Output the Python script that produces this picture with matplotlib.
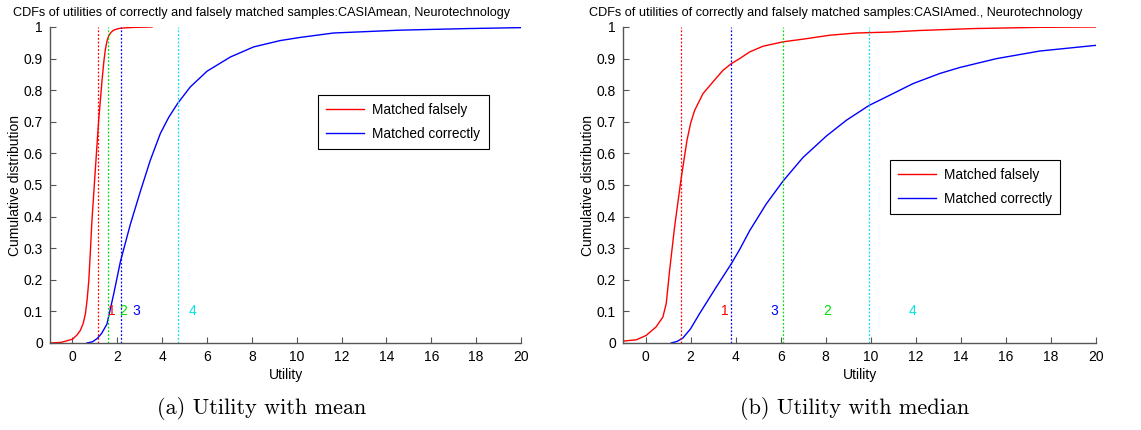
import matplotlib
matplotlib.use("Agg")
import matplotlib.pyplot as plt

plt.rcParams['font.family'] = ['Liberation Sans', 'DejaVu Sans']

# ---- Utility with mean ----
mean_false_x = [-1.0, -0.5, 0.0, 0.2, 0.354, 0.48, 0.58, 0.66, 0.73, 0.8, 0.87, 1.02, 1.17, 1.32, 1.40,
                1.47, 1.55, 1.62, 1.72, 1.84, 2.05, 2.28, 2.8, 3.55]
mean_false_y = [0.0, 0.002, 0.012, 0.025, 0.04, 0.062, 0.093, 0.14, 0.198, 0.29, 0.388, 0.547, 0.705, 0.831, 0.89,
                0.93, 0.958, 0.972, 0.983, 0.99, 0.995, 0.997, 0.999, 1.0]
mean_true_x = [0.65, 0.9, 1.1, 1.3, 1.54, 1.84, 2.14, 2.58, 3.03, 3.47, 3.92, 4.3, 4.69, 5.25, 6.0, 7.04,
               8.08, 9.26, 10.15, 11.64, 14.6, 17.6, 20.0]
mean_true_y = [0.0, 0.004, 0.014, 0.03, 0.06, 0.155, 0.258, 0.375, 0.48, 0.578, 0.663, 0.715, 0.758, 0.81, 0.86, 0.905,
               0.937, 0.957, 0.967, 0.981, 0.99, 0.995, 0.998]
mean_marks = [1.13, 1.57, 2.15, 4.7]
mean_mark_labels = ['1', '2', '3', '4']
mean_label_x = [1.75, 2.27, 2.83, 5.36]

# ---- Utility with median ----
med_false_x = [-1.0, -0.41, 0.03, 0.47, 0.77, 0.92, 1.07, 1.29, 1.57, 1.84, 2.0, 2.18, 2.55, 2.99, 3.44, 3.81,
               4.18, 4.62, 5.21, 6.1, 7.14, 8.18, 9.36, 10.84, 12.18, 14.55, 17.51, 20.0]
med_false_y = [0.006, 0.01, 0.024, 0.051, 0.082, 0.125, 0.23, 0.367, 0.515, 0.641, 0.695, 0.736, 0.789, 0.826, 0.863, 0.884,
               0.9, 0.921, 0.939, 0.953, 0.963, 0.974, 0.981, 0.984, 0.989, 0.995, 0.999, 1.0]
med_true_x = [1.14, 1.4, 1.66, 2.0, 2.4, 3.14, 3.81, 4.18, 4.62, 5.36, 6.1, 6.99, 8.03, 8.92, 9.93, 10.84, 11.88,
              13.07, 13.96, 15.59, 17.51, 20.0]
med_true_y = [0.0, 0.005, 0.016, 0.045, 0.093, 0.177, 0.251, 0.296, 0.355, 0.44, 0.512, 0.587, 0.655, 0.705, 0.752, 0.784,
              0.821, 0.853, 0.872, 0.9, 0.924, 0.942]
med_marks = [1.57, 6.1, 3.81, 9.92]
med_mark_labels = ['1', '2', '3', '4']
med_label_x = [3.54, 8.08, 5.73, 11.87]

mark_colors = ['#ff0000', '#00e000', '#0000ff', '#00e5e5']

titles = ['CDFs of utilities of correctly and falsely matched samples:CASIAmean, Neurotechnology',
          'CDFs of utilities of correctly and falsely matched samples:CASIAmed., Neurotechnology']
captions = ['(a) Utility with mean', '(b) Utility with median']
x_ticks = list(range(0, 21, 2))
y_ticks = [0, 0.1, 0.2, 0.3, 0.4, 0.5, 0.6, 0.7, 0.8, 0.9, 1]
y_tick_labels = ['0', '0.1', '0.2', '0.3', '0.4', '0.5', '0.6', '0.7', '0.8', '0.9', '1']

fig = plt.figure(figsize=(11.41, 4.30), dpi=100)
ax1 = fig.add_axes([50 / 1141, 1 - 343 / 430, 471 / 1141, 316 / 430])
ax2 = fig.add_axes([623 / 1141, 1 - 343 / 430, 473 / 1141, 316 / 430])

panels = [
    (ax1, mean_false_x, mean_false_y, mean_true_x, mean_true_y, mean_marks, mean_mark_labels, mean_label_x,
     (0.569, 0.785), 262),
    (ax2, med_false_x, med_false_y, med_true_x, med_true_y, med_marks, med_mark_labels, med_label_x,
     (0.564, 0.579), 836),
]

for i, (ax, fx, fy, tx, ty, marks, mlabels, lx, legpos, cx) in enumerate(panels):
    ax.plot(fx, fy, color='#ff0000', lw=1.0, label='Matched falsely')
    ax.plot(tx, ty, color='#0000ff', lw=1.0, label='Matched correctly')
    for m, lab, xl in zip(marks, mlabels, lx):
        c = mark_colors[int(lab) - 1]
        ax.axvline(m, ymin=0, ymax=1, color=c, ls=(0, (1.5, 1.5)), lw=0.9)
        ax.text(xl, 0.1, lab, color=c, fontsize=10, ha='center', va='center')
    ax.set_xlim(-1, 20)
    ax.set_ylim(0, 1)
    ax.set_xticks(x_ticks)
    ax.set_yticks(y_ticks)
    ax.set_yticklabels(y_tick_labels)
    ax.tick_params(direction='in', length=4, labelsize=10, colors='#555555', labelcolor='black', pad=5)
    for s in ['top', 'right']:
        ax.spines[s].set_visible(False)
    for s in ['left', 'bottom']:
        ax.spines[s].set_color('#555555')
        ax.spines[s].set_linewidth(1.0)
    ax.set_xlabel('Utility', fontsize=10, labelpad=3)
    ax.set_ylabel('Cumulative distribution', fontsize=10, labelpad=1)
    leg = ax.legend(loc='upper left', bbox_to_anchor=legpos, borderaxespad=0, fontsize=9.8,
                    fancybox=False, framealpha=1, edgecolor='black', handlelength=2.8,
                    handletextpad=0.6, borderpad=0.6, labelspacing=0.7)
    leg.get_frame().set_linewidth(0.8)
    fig.text(cx / 1141, 1 - 13 / 430, titles[i], fontsize=9.1, ha='center', va='center')

fig.text(262 / 1141, 1 - 408 / 430, captions[0], fontsize=16, ha='center', va='center', family='cmr10')
fig.text(855 / 1141, 1 - 408 / 430, captions[1], fontsize=16, ha='center', va='center', family='cmr10')

fig.savefig('out.png', dpi=100)
